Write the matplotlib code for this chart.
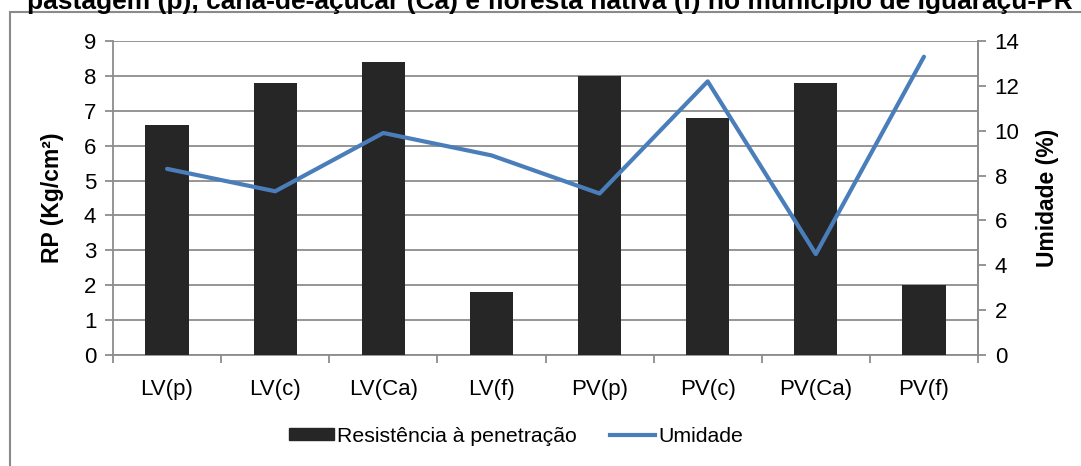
import matplotlib
matplotlib.use("Agg")
import matplotlib.pyplot as plt
from matplotlib.patches import Rectangle
from matplotlib.lines import Line2D
import numpy as np

categories = ["LV(p)", "LV(c)", "LV(Ca)", "LV(f)", "PV(p)", "PV(c)", "PV(Ca)", "PV(f)"]
rp = [6.6, 7.8, 8.4, 1.8, 8.0, 6.8, 7.8, 2.0]
umidade = [8.3, 7.3, 9.9, 8.9, 7.2, 12.2, 4.5, 13.3]

title = "pastagem (p), cana-de-açúcar (Ca) e floresta nativa (f) no município de Iguaraçu-PR"

plt.rcParams["font.family"] = ["Liberation Sans", "DejaVu Sans"]
GRID = "#8c8c8c"
W, H = 1081, 466
FS = 16

fig = plt.figure(figsize=(W / 100, H / 100), dpi=100)
# chart frame: only left and top edges fall inside the picture
fig.patches.append(Rectangle((10 / W, -0.1), 1.2, 1 - 12 / H + 0.1, transform=fig.transFigure,
                             fill=False, edgecolor="#8a8a8a", linewidth=1.5))
fig.text(27 / W, 1 - 9 / H, title, fontsize=19, fontweight="bold", ha="left", va="baseline")

ax = fig.add_axes([113 / W, 1 - 355 / H, (978 - 113) / W, (355 - 41) / H])
x = np.arange(len(categories))
ax.bar(x, rp, width=0.4, color="#262626", zorder=3, label="Resistência à penetração")
ax.set_xlim(-0.5, len(categories) - 0.5)
ax.set_ylim(0, 9)
ax.set_yticks(range(0, 10))
ax.yaxis.grid(True, color=GRID, linewidth=1.3, zorder=0)
ax.set_axisbelow(True)
ax.set_xticks(x)
ax.set_xticklabels(categories, fontsize=FS)
ax.set_xticks(np.arange(-0.5, len(categories)), minor=True)
ax.tick_params(axis="x", which="major", length=0, pad=17)
ax.tick_params(axis="x", which="minor", length=6, color=GRID, width=1.3)
ax.tick_params(axis="y", labelsize=FS, length=6, color=GRID, width=1.3, pad=6)
ax.set_ylabel("RP (Kg/cm²)", fontsize=16.5, fontweight="bold", labelpad=14)
ax.spines["top"].set_visible(False)
for s in ("left", "bottom", "right"):
    ax.spines[s].set_color(GRID)
    ax.spines[s].set_linewidth(1.3)

ax2 = ax.twinx()
ax2.plot(x, umidade, color="#4a7ebb", linewidth=3, solid_capstyle="round", zorder=4)
ax2.set_ylim(0, 14)
ax2.set_yticks(range(0, 15, 2))
ax2.tick_params(axis="y", labelsize=FS, length=6, color=GRID, width=1.3, pad=6)
ax2.set_ylabel("Umidade (%)", fontsize=16.5, fontweight="bold", labelpad=12)
ax2.spines["top"].set_visible(False)
ax2.spines["right"].set_color(GRID)
ax2.spines["right"].set_linewidth(1.3)
ax2.spines["left"].set_visible(False)
ax2.spines["bottom"].set_visible(False)

handles = [Rectangle((0, 0), 1, 1, color="#262626"),
           Line2D([0], [0], color="#4a7ebb", linewidth=3)]
fig.legend(handles, ["Resistência à penetração", "Umidade"], loc="center",
           bbox_to_anchor=(516 / W, 1 - 436 / H), ncol=2, frameon=False, fontsize=15.3,
           handlelength=2.1, handleheight=0.5, handletextpad=0.15, columnspacing=1.6)

fig.savefig("out.png", dpi=100)
